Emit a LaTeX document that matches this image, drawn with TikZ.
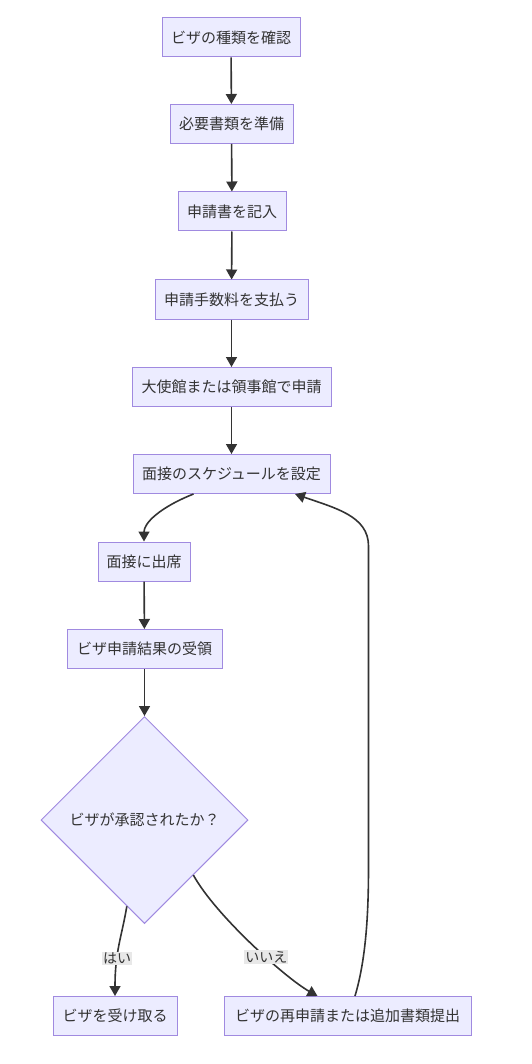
\documentclass[tikz,border=0pt]{standalone}
\usepackage{fontspec}
\setmainfont{Noto Sans CJK JP}
\usetikzlibrary{arrows.meta,shapes.geometric,calc}
\definecolor{boxfill}{HTML}{ECECFF}
\definecolor{boxdraw}{HTML}{A08AE0}
\definecolor{ink}{HTML}{333333}
\definecolor{lblbg}{HTML}{E8E8E8}
\tikzset{
  stepbox/.style={draw=boxdraw, fill=boxfill, line width=1pt, minimum height=39pt, inner sep=0pt, text=ink, font=\fontsize{15}{18}\selectfont},
  decbox/.style={draw=boxdraw, fill=boxfill, line width=1pt, diamond, aspect=1, minimum size=207pt, inner sep=0pt, text=ink, font=\fontsize{15}{18}\selectfont},
  conn/.style={draw=ink, line width=1.6pt, -{Triangle[length=10pt,width=11pt]}},
  lbl/.style={fill=lblbg, inner sep=1pt, text=ink, font=\fontsize{14}{16}\selectfont}
}
\begin{document}
\begin{tikzpicture}[x=1pt,y=-1pt]
\useasboundingbox (0,0) rectangle (532,1064);
\node[stepbox, minimum width=138pt] (n1) at (231,37.5) {ビザの種類を確認};
\node[stepbox, minimum width=123pt] (n2) at (231.5,124) {必要書類を準備};
\node[stepbox, minimum width=108pt] (n3) at (232,211.5) {申請書を記入};
\node[stepbox, minimum width=153pt] (n4) at (231.5,299.5) {申請手数料を支払う};
\node[stepbox, minimum width=199pt] (n5) at (231.5,387) {大使館または領事館で申請};
\node[stepbox, minimum width=197pt] (n6) at (231.5,474) {面接のスケジュールを設定};
\node[stepbox, minimum width=92pt] (n7) at (144,561.5) {面接に出席};
\node[stepbox, minimum width=155pt] (n8) at (144.5,649) {ビザ申請結果の受領};
\node[decbox] (d) at (144.5,820) {ビザが承認されたか？};
\node[stepbox, minimum width=124pt] (n9) at (115,1016) {ビザを受け取る};
\node[stepbox, minimum width=247pt] (n10) at (347.5,1016) {ビザの再申請または追加書類提出};

\draw[conn] (n1) -- (n2);
\draw[conn] (n2) -- (n3);
\draw[conn] (n3) -- (n4);
\draw[conn] (n4) -- (n5);
\draw[conn] (n5) -- (n6);
\draw[conn] ([xshift=-38pt]n6.south) .. controls +(-35,14) and +(0,-18) .. (n7.north);
\draw[conn] (n7) -- (n8);
\draw[conn] (n8.south) -- (d.north);
\draw[conn] ($(d.south)!0.17!(d.west)$) .. controls +(-5,30) and +(0,-45) .. (n9.north)
  node[lbl, pos=0.66] {はい};
\draw[conn] ($(d.south)!0.47!(d.east)$) .. controls +(22,40) and +(-32,-18) .. ([xshift=-30pt]n10.north)
  node[lbl, pos=0.6] {いいえ};
\draw[conn] ([xshift=7.5pt]n10.north) .. controls +(12,-40) and +(0,40) .. ++(13.5,-130)
  -- ++(0,-320) .. controls +(0,-30) and +(40,14) .. ([xshift=63.5pt]n6.south);
\end{tikzpicture}
\end{document}
